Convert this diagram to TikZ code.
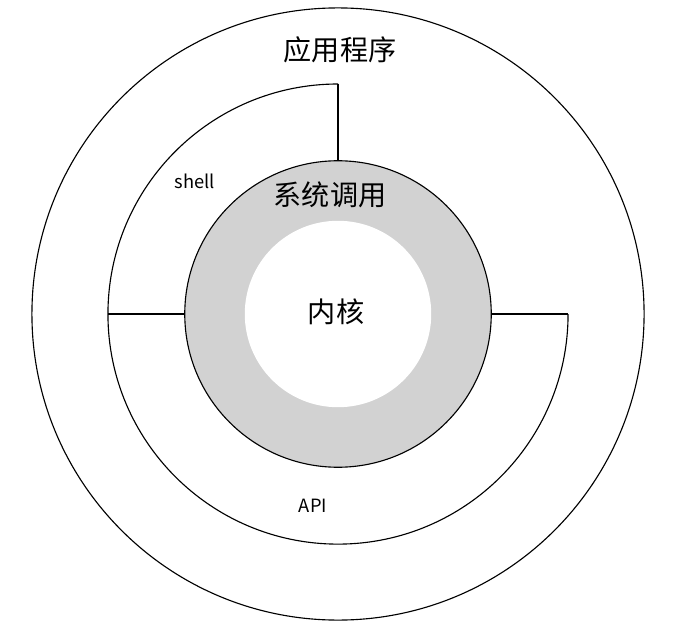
\documentclass[tikz,border=0pt]{standalone}
\usepackage{fontspec}
\setmainfont{Noto Sans CJK SC}
\usetikzlibrary{positioning}
\begin{document}
\begin{tikzpicture}[
    x=0.025cm, y=-0.025cm,
    % Styles
    ringline/.style={draw=black, line width=0.8pt},
    cjklabel/.style={font=\fontsize{20}{24}\selectfont},
    smalllabel/.style={font=\fontsize{13}{16}\selectfont},
]
\useasboundingbox (0,0) rectangle (675,636);

% === RINGS ===
\coordinate (c) at (338,314);
\draw[ringline] (c) circle (7.65cm);
\fill[gray!35] (c) circle (3.83cm);
\draw[ringline] (c) circle (3.83cm);
\fill[white] (c) circle (2.33cm);

% === SHELL / API ===
\draw[ringline] (338,84) arc[start angle=90, end angle=360, radius=5.75cm];
\draw[ringline] (338,84) -- (338,160);
\draw[ringline] (108,314) -- (185,314);
\draw[ringline] (491,314) -- (568,314);

% === LABELS ===
\node[cjklabel] (app) at (340,50) {应用程序};
\node[cjklabel] (syscall) at (330,195) {系统调用};
\node[cjklabel] (kernel) at (336,312) {内核};
\node[smalllabel] (shell) at (195,181) {shell};
\node[smalllabel] (api) at (313,506) {API};
\end{tikzpicture}
\end{document}
